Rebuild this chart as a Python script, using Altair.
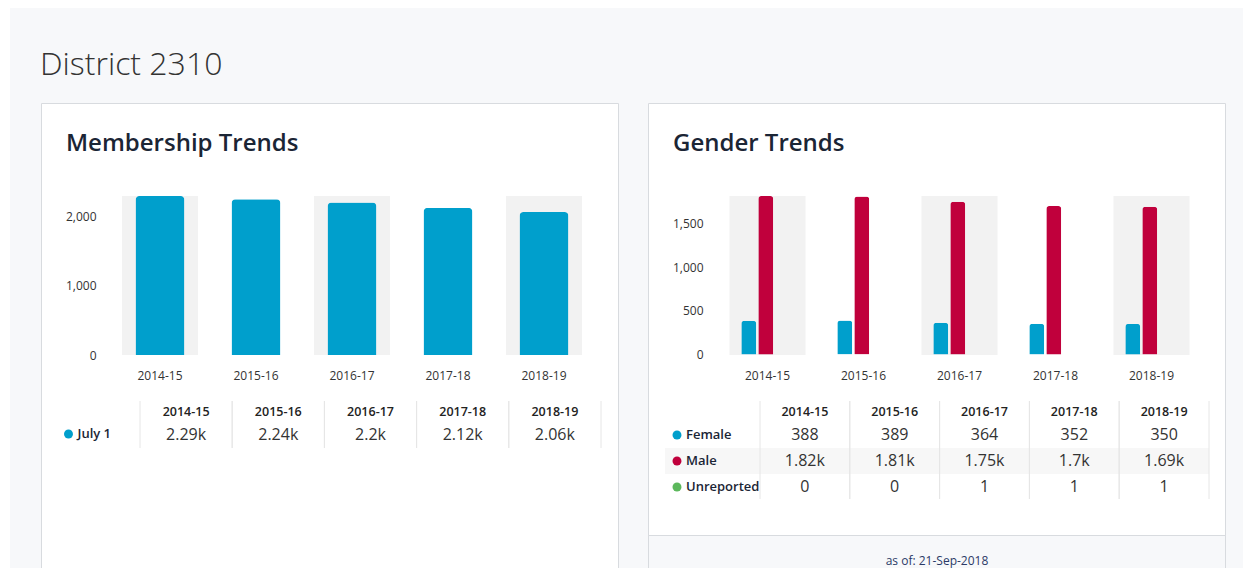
import altair as alt
import pandas as pd

# ---------------- data ----------------
years = ["2014-15", "2015-16", "2016-17", "2017-18", "2018-19"]
july1 = [2288, 2241, 2196, 2117, 2058]
genders = ["Female", "Male", "Unreported"]
female = [388, 389, 364, 352, 350]
male = [1816, 1809, 1751, 1700, 1692]
unreported = [0, 0, 1, 1, 1]
left_ticks = [0, 1000, 2000]
right_ticks = [0, 500, 1000, 1500]
page_title = "District 2310"
left_title = "Membership Trends"
right_title = "Gender Trends"
left_series = "July 1"
footer_text = "as of: 21-Sep-2018"

BLUE = "#009fcc"
RED = "#c0003c"
GREEN = "#5cb85c"
BAND = "#f2f2f2"
BORDER = "#d8dbdf"
PAGEBG = "#f7f8fa"
FONT = "Open Sans"

W, H = 1235, 560


def V(p):
    """page pixel -> view pixel"""
    return p - 8


df_left = pd.DataFrame({"year": years, "value": july1})
df_right = pd.DataFrame(
    [
        {"year": y, "gender": g, "value": v}
        for g, vals in zip(genders, [female, male, unreported])
        for y, v in zip(years, vals)
    ]
)
df_bands = pd.DataFrame({"year": years[0::2]})
df_years = pd.DataFrame({"year": years})
df_gen = pd.DataFrame({"gender": genders})
df_one = pd.DataFrame({"k": [0]})

color_scale = alt.Scale(domain=genders, range=[BLUE, RED, GREEN])

# ---------------- scales ----------------
lx = alt.Scale(domain=years, range=[V(122), V(582)], paddingInner=20 / 96, paddingOuter=0)
ly = alt.Scale(domain=[0, max(july1)], range=[V(355), V(196)], nice=False, zero=True)
rx = alt.Scale(domain=years, range=[V(729.5), V(1189.5)], paddingInner=20 / 96, paddingOuter=0)
ry = alt.Scale(domain=[0, max(male)], range=[V(354.5), V(196)], nice=False, zero=True)
roff = alt.Scale(domain=genders, range=[11.8, 60.8], paddingInner=2 / 17, paddingOuter=0)
ltx = alt.Scale(domain=years, range=[V(140), V(601)], paddingInner=0, paddingOuter=0)
rtx = alt.Scale(domain=years, range=[V(760), V(1209)], paddingInner=0, paddingOuter=0)
rty = alt.Scale(domain=genders, range=[V(422), V(500)], paddingInner=0, paddingOuter=0)

base = alt.Chart(df_one)

layers = []

# page background
layers.append(
    base.mark_rect(fill=PAGEBG).encode(
        x=alt.value(2), x2=alt.value(W), y=alt.value(0), y2=alt.value(H)
    )
)
# panels
for x0, x1 in [(V(41) + 0.5, V(618) + 0.5), (V(648) + 0.5, V(1225) + 0.5)]:
    layers.append(
        base.mark_rect(fill="white", stroke=BORDER, strokeWidth=1).encode(
            x=alt.value(x0), x2=alt.value(x1), y=alt.value(V(103) + 0.5), y2=alt.value(H + 20)
        )
    )
# footer of right panel
layers.append(
    base.mark_rect(fill=PAGEBG, stroke=BORDER, strokeWidth=1).encode(
        x=alt.value(V(648) + 0.5), x2=alt.value(V(1225) + 0.5),
        y=alt.value(V(535) + 0.5), y2=alt.value(H + 20)
    )
)
layers.append(
    base.mark_text(text=footer_text, font=FONT, fontSize=12, color="#2b3a67",
                   align="center", baseline="middle").encode(
        x=alt.value(V(937)), y=alt.value(V(560.5))
    )
)

# titles
layers.append(
    base.mark_text(text=page_title, font=FONT, fontSize=32, fontWeight=300, color="#333333",
                   align="left", baseline="alphabetic").encode(
        x=alt.value(V(40)), y=alt.value(V(74.5))
    )
)
for tx, t in [(V(66), left_title), (V(673), right_title)]:
    layers.append(
        base.mark_text(text=t, font=FONT, fontSize=24, fontWeight=600, color="#1b2535",
                       align="left", baseline="alphabetic").encode(
            x=alt.value(tx), y=alt.value(V(151))
        )
    )

axis_common = dict(grid=False, domain=False, ticks=False, tickSize=0, labelPadding=0,
                   labelFont=FONT, labelFontSize=12, labelColor="#333333", title=None,
                   zindex=1)

# ---------------- left chart ----------------
layers.append(
    alt.Chart(df_bands).mark_rect(color=BAND).encode(
        x=alt.X("year:N", scale=lx, axis=None),
        y=alt.value(V(196)), y2=alt.value(V(355)),
    )
)
layers.append(
    alt.Chart(df_left).mark_bar(width=49, color=BLUE, cornerRadiusTopLeft=4, cornerRadiusTopRight=4).encode(
        x=alt.X("year:N", scale=lx, sort=years,
                axis=alt.Axis(orient="bottom", offset=V(379.5) - H, labelBaseline="alphabetic",
                              labelAngle=0, **axis_common)),
        y=alt.Y("value:Q", scale=ly,
                axis=alt.Axis(orient="left", values=left_ticks, format=",.0f", offset=-V(96), **axis_common)),
    )
)

# ---------------- right chart ----------------
layers.append(
    alt.Chart(df_bands).mark_rect(color=BAND).encode(
        x=alt.X("year:N", scale=rx, axis=None),
        y=alt.value(V(196)), y2=alt.value(V(355)),
    )
)
layers.append(
    alt.Chart(df_right).mark_bar(cornerRadiusTopLeft=3, cornerRadiusTopRight=3).encode(
        x=alt.X("year:N", scale=rx, sort=years,
                axis=alt.Axis(orient="bottom", offset=V(379.5) - H, labelBaseline="alphabetic",
                              labelAngle=0, **axis_common)),
        xOffset=alt.XOffset("gender:N", scale=roff, sort=genders),
        y=alt.Y("value:Q", scale=ry,
                axis=alt.Axis(orient="left", values=right_ticks, format=",.0f", offset=-V(703), **axis_common)),
        color=alt.Color("gender:N", scale=color_scale, legend=None),
    )
)

# ---------------- left table ----------------
for bp in [0, 1]:
    layers.append(
        alt.Chart(df_years).mark_rule(color="#e6e6e6", strokeWidth=1).encode(
            x=alt.X("year:N", scale=ltx, axis=None, bandPosition=bp),
            y=alt.value(V(401)), y2=alt.value(V(448)),
        )
    )
layers.append(
    alt.Chart(df_years).mark_text(font=FONT, fontSize=12.5, fontWeight=600, color="#222222",
                                  baseline="middle").encode(
        x=alt.X("year:N", scale=ltx, axis=None),
        y=alt.value(V(411.5)),
        text="year:N",
    )
)
layers.append(
    alt.Chart(df_left).mark_text(font=FONT, fontSize=16, color="#333333", baseline="middle").encode(
        x=alt.X("year:N", scale=ltx, axis=None),
        y=alt.value(V(434.5)),
        text=alt.Text("value:Q", format=".3~s"),
    )
)
layers.append(
    base.mark_circle(size=80, color=BLUE, opacity=1).encode(x=alt.value(V(68.5)), y=alt.value(V(434)))
)
layers.append(
    base.mark_text(text=left_series, font=FONT, fontSize=13, fontWeight=600, color="#1b2535",
                   align="left", baseline="middle").encode(x=alt.value(V(77.5)), y=alt.value(V(434)))
)

# ---------------- right table ----------------
layers.append(
    alt.Chart(df_gen).transform_filter(alt.datum.gender == "Male").mark_rect(color="#f7f7f7").encode(
        x=alt.value(V(665)), x2=alt.value(V(1209)),
        y=alt.Y("gender:N", scale=rty, axis=None),
    )
)
for bp in [0, 1]:
    layers.append(
        alt.Chart(df_years).mark_rule(color="#e6e6e6", strokeWidth=1).encode(
            x=alt.X("year:N", scale=rtx, axis=None, bandPosition=bp),
            y=alt.value(V(401)), y2=alt.value(V(499)),
        )
    )
layers.append(
    alt.Chart(df_years).mark_text(font=FONT, fontSize=12.5, fontWeight=600, color="#222222",
                                  baseline="middle").encode(
        x=alt.X("year:N", scale=rtx, axis=None),
        y=alt.value(V(412)),
        text="year:N",
    )
)
layers.append(
    alt.Chart(df_right).mark_text(font=FONT, fontSize=16, color="#333333", baseline="middle").encode(
        x=alt.X("year:N", scale=rtx, axis=None),
        y=alt.Y("gender:N", scale=rty, axis=None),
        text=alt.Text("value:Q", format=".3~s"),
    )
)
layers.append(
    alt.Chart(df_gen).mark_circle(size=80, opacity=1).encode(
        x=alt.value(V(677)),
        y=alt.Y("gender:N", scale=rty, axis=None),
        color=alt.Color("gender:N", scale=color_scale, legend=None),
    )
)
layers.append(
    alt.Chart(df_gen).mark_text(font=FONT, fontSize=13, fontWeight=600, color="#1b2535",
                                align="left", baseline="middle").encode(
        x=alt.value(V(686)),
        y=alt.Y("gender:N", scale=rty, axis=None),
        text="gender:N",
    )
)

chart = (
    alt.layer(*layers)
    .resolve_scale(x="independent", y="independent")
    .properties(width=W, height=H, autosize=alt.AutoSizeParams(type="none"), padding=0,
                background="white")
    .configure_view(stroke=None)
)

chart.save("out.html", embed_options={"renderer": "svg", "actions": False})
